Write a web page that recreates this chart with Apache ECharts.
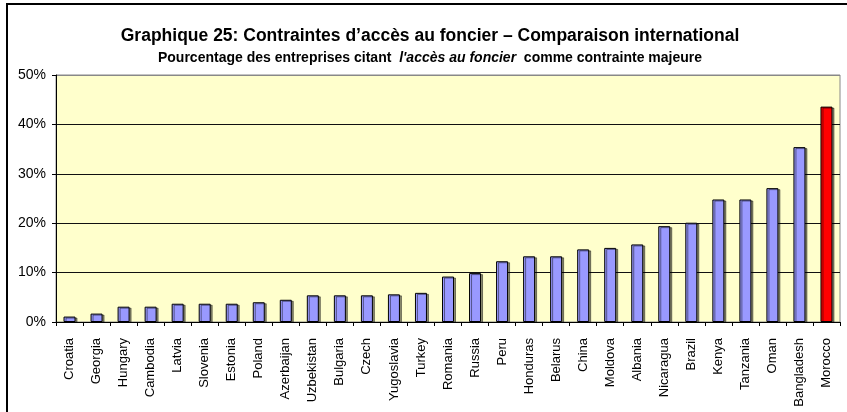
<!DOCTYPE html>
<html>
<head>
<meta charset="utf-8">
<script src="https://cdn.jsdelivr.net/npm/echarts@6/dist/echarts.min.js"></script>
<style>
  html, body { margin: 0; padding: 0; background: #fff; }
  #chart { width: 847px; height: 412px; }
</style>
</head>
<body>
<div id="chart"></div>
<script>
const countries = ['Croatia', 'Georgia', 'Hungary', 'Cambodia', 'Latvia', 'Slovenia', 'Estonia', 'Poland',
  'Azerbaijan', 'Uzbekistan', 'Bulgaria', 'Czech', 'Yugoslavia', 'Turkey', 'Romania', 'Russia', 'Peru',
  'Honduras', 'Belarus', 'China', 'Moldova', 'Albania', 'Nicaragua', 'Brazil', 'Kenya', 'Tanzania',
  'Oman', 'Bangladesh', 'Morocco'];
const shares = [1.1, 1.7, 3.1, 3.1, 3.7, 3.7, 3.7, 4.0, 4.5, 5.4, 5.4, 5.4, 5.6, 5.9, 9.2, 9.9, 12.3,
  13.3, 13.3, 14.7, 15.0, 15.7, 19.4, 20.1, 24.8, 24.8, 27.1, 35.4, 43.6];
const yTicks = [0, 10, 20, 30, 40, 50];
const highlight = 'Morocco';

const font = '"Liberation Sans", Arial, sans-serif';
const chart = echarts.init(document.getElementById('chart'));

chart.setOption({
  animation: false,
  graphic: [
    {
      type: 'rect',
      shape: { x: 7, y: 4, width: 860, height: 430 },
      style: { fill: 'none', stroke: '#000', lineWidth: 2 },
      z: 100
    },
    {
      type: 'text',
      x: 430, y: 36,
      style: {
        text: 'Graphique 25: Contraintes d\u2019accès au foncier \u2013 Comparaison international',
        font: 'bold 17.5px ' + font,
        fill: '#000',
        align: 'center',
        verticalAlign: 'middle'
      }
    },
    {
      type: 'text',
      x: 430, y: 58,
      style: {
        text: 'Pourcentage des entreprises citant  {i|l\'accès au foncier}  comme contrainte majeure',
        font: 'bold 14px ' + font,
        fill: '#000',
        align: 'center',
        verticalAlign: 'middle',
        rich: {
          i: { font: 'italic bold 14px ' + font, fill: '#000' }
        }
      }
    }
  ],
  grid: {
    left: 56, right: 7, top: 75, bottom: 90,
    show: true,
    backgroundColor: '#FFFFCC',
    borderColor: '#888',
    borderWidth: 1
  },
  xAxis: {
    type: 'category',
    data: countries,
    axisLine: { lineStyle: { color: '#000', width: 1 } },
    axisTick: { show: true, interval: 0, length: 4, lineStyle: { color: '#000' } },
    axisLabel: {
      interval: 0,
      rotate: 90,
      fontFamily: font,
      fontSize: 13,
      color: '#000',
      margin: 16
    }
  },
  yAxis: {
    type: 'value',
    min: 0,
    max: 50,
    interval: 10,
    axisLine: { show: true, lineStyle: { color: '#000', width: 1 } },
    axisTick: { show: true, length: 4, lineStyle: { color: '#000' } },
    axisLabel: {
      formatter: v => yTicks.includes(v) ? v + '%' : '',
      fontFamily: font,
      fontSize: 14,
      color: '#000',
      margin: 10
    },
    splitLine: {
      show: true,
      lineStyle: { color: ['#111', '#111', '#111', '#111', '#111', '#888'], width: 1 }
    }
  },
  series: [{
    type: 'bar',
    barWidth: 12,
    data: shares.map((v, i) => ({
      value: v,
      itemStyle: { color: countries[i] === highlight ? '#FF0000' : '#9999FF' }
    })),
    itemStyle: {
      borderColor: '#000',
      borderWidth: 1,
      shadowColor: 'rgba(0,0,0,0.45)',
      shadowOffsetX: 2,
      shadowOffsetY: 1,
      shadowBlur: 0
    }
  }]
});
</script>
</body>
</html>
